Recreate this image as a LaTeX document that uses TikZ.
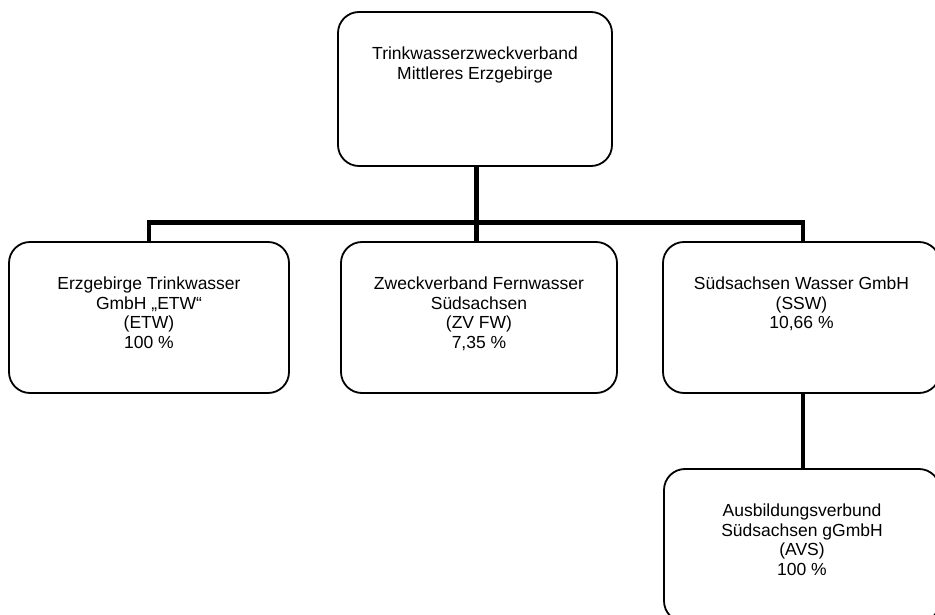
\documentclass[tikz,border=0pt]{standalone}
\usepackage{fontspec}
\setmainfont{Liberation Sans}
\begin{document}
\begin{tikzpicture}[x=1pt,y=-1pt,
  box/.style={draw=black,line width=1.8pt,rounded corners=21pt,inner sep=0pt},
  txt/.style={align=center,inner sep=0pt,anchor=north,font=\fontsize{17.5}{19.6}\selectfont},
  conn/.style={draw=black,line width=4.8pt,line join=miter}]
\useasboundingbox (0,0) rectangle (935,615);
\clip (0,0) rectangle (935,615);
% boxes
\node[box,minimum width=274pt,minimum height=154pt] (top) at (475,89) {};
\node[box,minimum width=280pt,minimum height=151pt] (etw) at (149,317.5) {};
\node[box,minimum width=276pt,minimum height=151pt] (zv) at (479,317.5) {};
\node[box,minimum width=277pt,minimum height=151pt] (ssw) at (801.5,317.5) {};
\node[box,minimum width=276pt,minimum height=153pt] (avs) at (802,545.5) {};
% texts
\node[txt] (ttop) at ([yshift=-35.5pt]top.north) {Trinkwasserzweckverband\\Mittleres Erzgebirge};
\node[txt] (tetw) at ([yshift=-35.5pt]etw.north) {Erzgebirge Trinkwasser\\GmbH „ETW“\\(ETW)\\100 \%};
\node[txt] (tzv) at ([yshift=-35.5pt]zv.north) {Zweckverband Fernwasser\\Südsachsen\\(ZV FW)\\7,35 \%};
\node[txt] (tssw) at ([yshift=-35.5pt]ssw.north) {Südsachsen Wasser GmbH\\(SSW)\\10,66 \%};
\node[txt] (tavs) at ([yshift=-35.5pt]avs.north) {Ausbildungsverbund\\Südsachsen gGmbH\\(AVS)\\100 \%};
% connectors
\coordinate (bus) at (476.5,222.5);
\draw[conn] (top.south -| bus) -- (bus);
\draw[conn] (etw.north) |- (bus) -| (803,241.5);
\draw[conn] (bus) -- (bus |- zv.north);
\draw[conn] (803,393) -- (803,469);
\end{tikzpicture}
\end{document}
